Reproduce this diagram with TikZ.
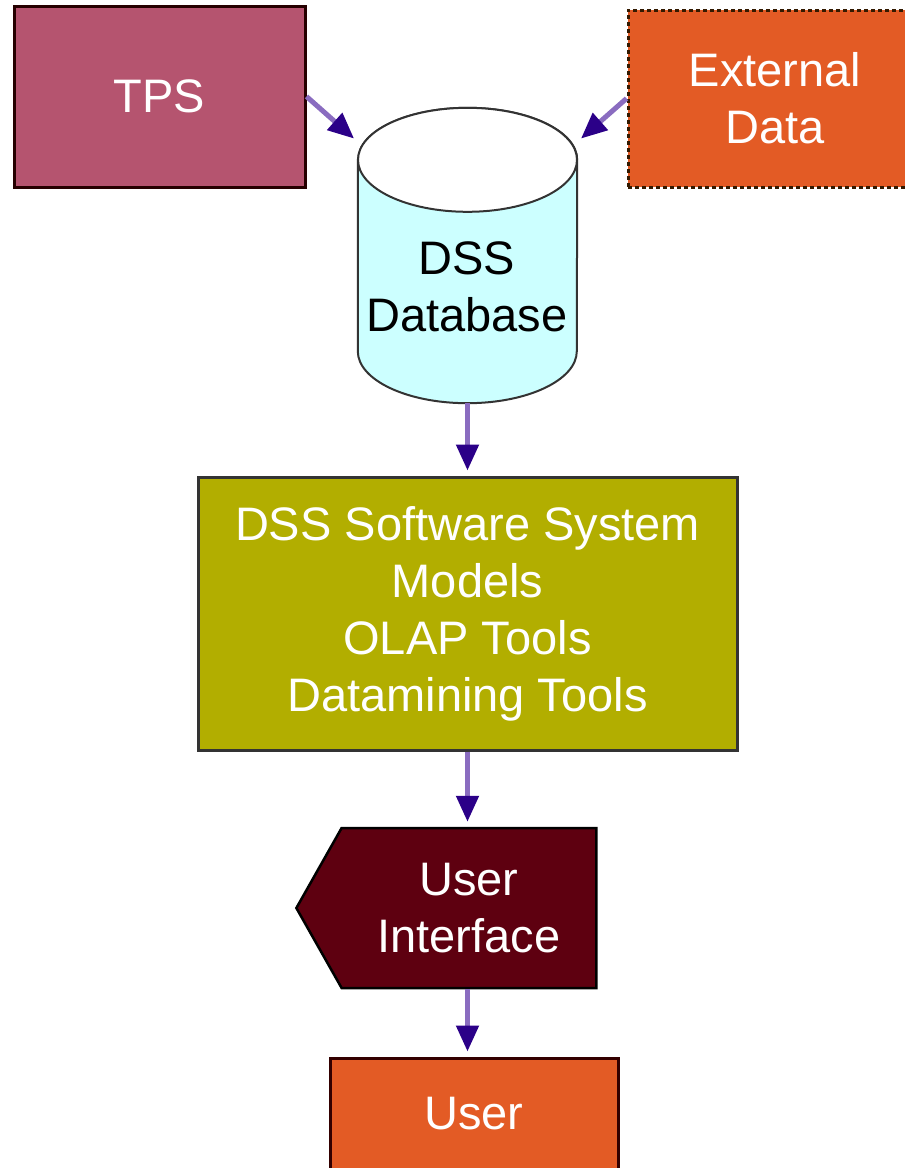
\documentclass[tikz,border=0pt]{standalone}
\usepackage{fontspec}
\setmainfont{Liberation Sans}
\usetikzlibrary{arrows.meta}
\usetikzlibrary{shapes.symbols}
\definecolor{tpscol}{HTML}{B5546F}
\definecolor{orangecol}{HTML}{E35B25}
\definecolor{olivecol}{HTML}{B2AE00}
\definecolor{cylcol}{HTML}{CCFFFF}
\definecolor{uicol}{HTML}{5E0010}
\definecolor{linkcol}{HTML}{8A6CC0}
\definecolor{headcol}{HTML}{2B0088}

\begin{document}
\begin{tikzpicture}[x=1pt,y=-1pt]
\useasboundingbox (0,0) rectangle (905,1168);
\begin{scope}
	\tikzstyle{every node}=[align=center, text=white, font=\fontsize{47}{57}\selectfont]
	\tikzstyle{link}=[line width=5pt, draw=linkcol, -{Triangle[length=26pt,width=22pt,color=headcol]}, shorten >=5pt]
	\tikzstyle{rim}=[x radius=109.5pt, y radius=52pt]
	\node[draw=black!85!red, line width=3pt, fill=tpscol, minimum width=291pt, minimum height=181pt] (tps) at (159.5,96.5) {TPS};
	\node[draw=black!80!orange, dash pattern=on 4pt off 3pt, line width=3pt, fill=orangecol, minimum width=294pt, minimum height=177pt] (ext) at (775,98.5) {External\\Data};
	% database drum
	\node[inner sep=0pt, minimum width=219pt, minimum height=295pt] (db) at (467.5,255.5) {};
	\draw[draw=black!80, line width=2pt, fill=cylcol] ([yshift=-52pt]db.north west) -- ([yshift=52pt]db.south west)
		arc[start angle=180, end angle=360, rim] -- ([yshift=-52pt]db.north east)
		arc[start angle=0, end angle=180, rim] -- cycle;
	\draw[draw=black!80, line width=2pt, fill=white] ([yshift=-52pt]db.north) ellipse[rim];
	\node[text=black] (dbtext) at (467,287) {DSS\\Database};
	\node[draw=black!80, line width=3pt, fill=olivecol, minimum width=539pt, minimum height=273pt] (dss) at (467.5,613.5) {DSS Software System\\Models\\OLAP Tools\\Datamining Tools};
	\node[signal, signal to=west, signal pointer angle=121, draw=black, line width=2.5pt, fill=uicol, minimum width=300pt, minimum height=160pt] (ui) at (469,908) {User\\Interface};
	\node[draw=black!80!red, line width=3pt, fill=orangecol, minimum width=288pt, minimum height=112pt] (user) at (474,1114) {User};

	\draw [link] (tps.east) -- (db.134);
	\draw [link] (ext.west) -- (db.46);
	\draw [link] (db.south) -- (dss.north -| db.south);
	\draw [link] (dss.south -| db.south) -- (ui.north -| db.south);
	\draw [link] (ui.south -| db.south) -- (user.north -| db.south);
\end{scope}
\end{tikzpicture}
\end{document}
